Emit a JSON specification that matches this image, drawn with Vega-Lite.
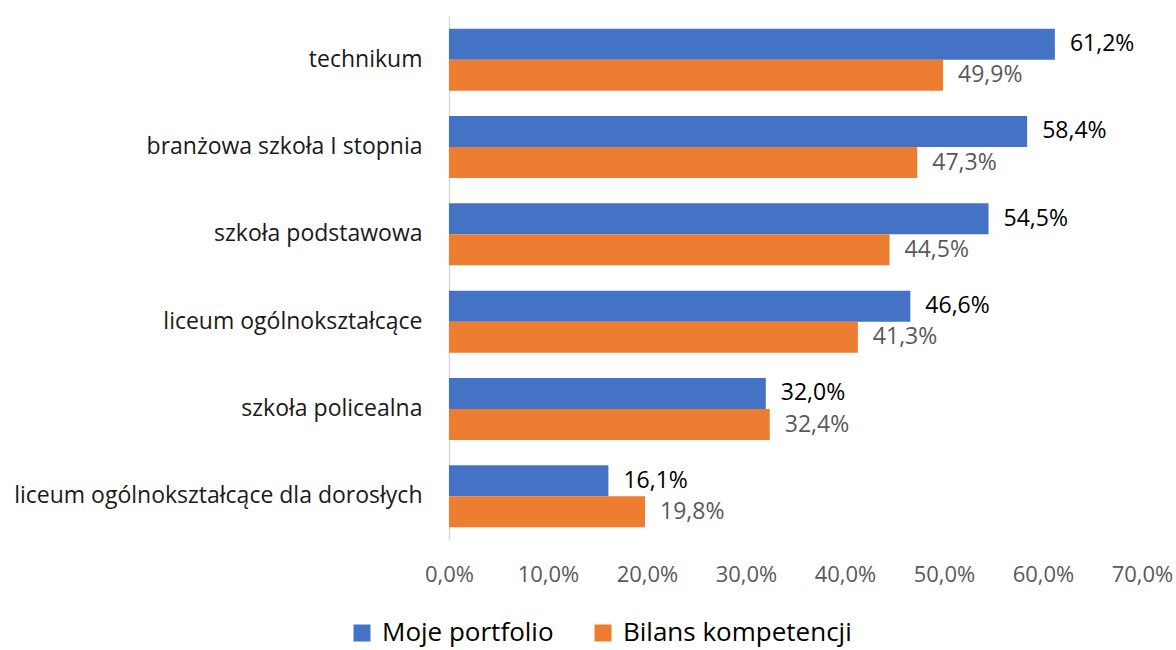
{
  "$schema": "https://vega.github.io/schema/vega-lite/v6.json",
  "width": 693,
  "height": 524,
  "autosize": {"type": "none"},
  "padding": {"left": 449, "top": 16, "right": 34, "bottom": 110},
  "background": "white",
  "config": {"view": {"stroke": null}, "font": "Open Sans"},
  "data": {
    "values": [
      {"category": "technikum", "series": "Moje portfolio", "value": 61.2, "label": "61,2%"},
      {"category": "technikum", "series": "Bilans kompetencji", "value": 49.9, "label": "49,9%"},
      {"category": "branżowa szkoła I stopnia", "series": "Moje portfolio", "value": 58.4, "label": "58,4%"},
      {"category": "branżowa szkoła I stopnia", "series": "Bilans kompetencji", "value": 47.3, "label": "47,3%"},
      {"category": "szkoła podstawowa", "series": "Moje portfolio", "value": 54.5, "label": "54,5%"},
      {"category": "szkoła podstawowa", "series": "Bilans kompetencji", "value": 44.5, "label": "44,5%"},
      {"category": "liceum ogólnokształcące", "series": "Moje portfolio", "value": 46.6, "label": "46,6%"},
      {"category": "liceum ogólnokształcące", "series": "Bilans kompetencji", "value": 41.3, "label": "41,3%"},
      {"category": "szkoła policealna", "series": "Moje portfolio", "value": 32.0, "label": "32,0%"},
      {"category": "szkoła policealna", "series": "Bilans kompetencji", "value": 32.4, "label": "32,4%"},
      {"category": "liceum ogólnokształcące dla dorosłych", "series": "Moje portfolio", "value": 16.1, "label": "16,1%"},
      {"category": "liceum ogólnokształcące dla dorosłych", "series": "Bilans kompetencji", "value": 19.8, "label": "19,8%"}
    ]
  },
  "encoding": {
    "y": {
      "field": "category",
      "type": "nominal",
      "sort": ["technikum", "branżowa szkoła I stopnia", "szkoła podstawowa", "liceum ogólnokształcące", "szkoła policealna", "liceum ogólnokształcące dla dorosłych"],
      "scale": {"paddingInner": 0.29, "paddingOuter": 0.145},
      "axis": {
        "title": null,
        "ticks": false,
        "domain": true,
        "domainColor": "#d9d9d9",
        "domainWidth": 1.5,
        "labelFontSize": 23,
        "labelColor": "#1a1a1a",
        "labelPadding": 27,
        "labelLimit": 600
      }
    },
    "yOffset": {"field": "series", "type": "nominal", "sort": ["Moje portfolio", "Bilans kompetencji"], "scale": {"paddingInner": 0, "paddingOuter": 0}},
    "x": {
      "field": "value",
      "type": "quantitative",
      "scale": {"domain": [0, 70], "nice": false},
      "axis": {
        "title": null,
        "values": [0, 10, 20, 30, 40, 50, 60, 70],
        "labelExpr": "replace(format(datum.value, '.1f'), '.', ',') + '%'",
        "grid": false,
        "ticks": false,
        "domain": false,
        "labelFontSize": 22,
        "labelColor": "#595959",
        "labelPadding": 24,
        "labelFlush": false,
        "labelOverlap": false
      }
    }
  },
  "layer": [
    {
      "mark": {"type": "bar"},
      "encoding": {
        "color": {
          "field": "series",
          "type": "nominal",
          "sort": ["Moje portfolio", "Bilans kompetencji"],
          "scale": {"domain": ["Moje portfolio", "Bilans kompetencji"], "range": ["#4472C4", "#ED7D31"]},
          "legend": {
            "orient": "none",
            "legendX": -100,
            "legendY": 604,
            "direction": "horizontal",
            "title": null,
            "symbolType": "square",
            "symbolSize": 289,
            "symbolStrokeWidth": 0,
            "labelFontSize": 26,
            "labelColor": "#000000",
            "labelOffset": 7,
            "columnPadding": 36,
            "labelLimit": 400
          }
        }
      }
    },
    {
      "mark": {"type": "text", "align": "left", "baseline": "middle", "dx": 15, "fontSize": 23},
      "encoding": {
        "text": {"field": "label"},
        "color": {"condition": {"test": "datum.series === 'Moje portfolio'", "value": "#000000"}, "value": "#595959"}
      }
    }
  ]
}
